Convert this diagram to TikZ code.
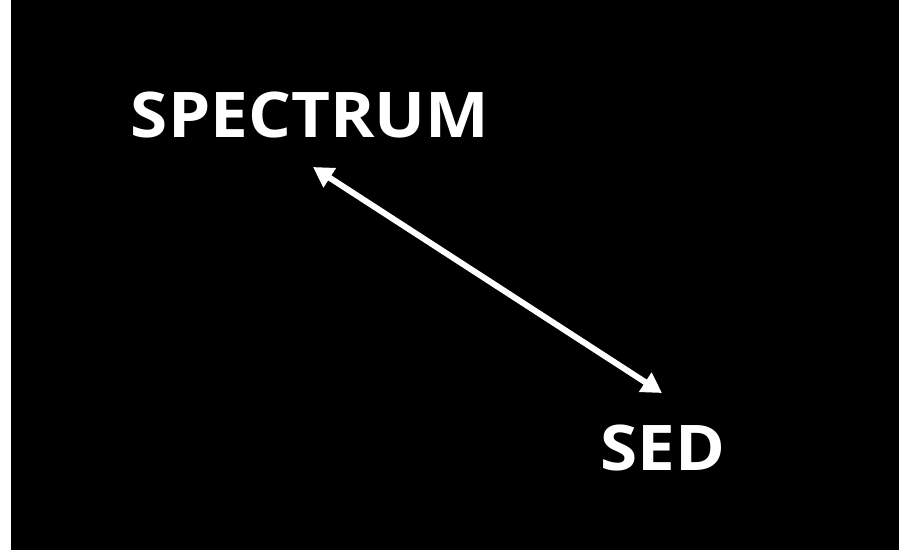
\documentclass[tikz,border=0pt]{standalone}
\usepackage{fontspec}
\setmainfont{Open Sans}
\newfontfamily\lblfont{Open Sans}[FakeStretch=1.07]
\usetikzlibrary{arrows.meta}
\begin{document}
\begin{tikzpicture}[x=1pt,y=-1pt,
  lbl/.style={text=white,font=\lblfont\fontsize{63}{70}\selectfont\bfseries,inner sep=0pt,anchor=base},
  link/.style={white,line width=6pt,{Triangle[length=20pt,width=22pt]}-{Triangle[length=20pt,width=22pt]}}]
\useasboundingbox (0,0) rectangle (899,550);
\fill[white] (0,0) rectangle (11,550);
\fill[black] (11,0) rectangle (899,550);
\node[lbl] (spec) at (310,137) {SPECTRUM};
\node[lbl] (sed) at (663,470) {SED};
\coordinate (p1) at (313,167);
\coordinate (p2) at (662,393);
\draw[link] (p1) -- (p2);
\end{tikzpicture}
\end{document}
